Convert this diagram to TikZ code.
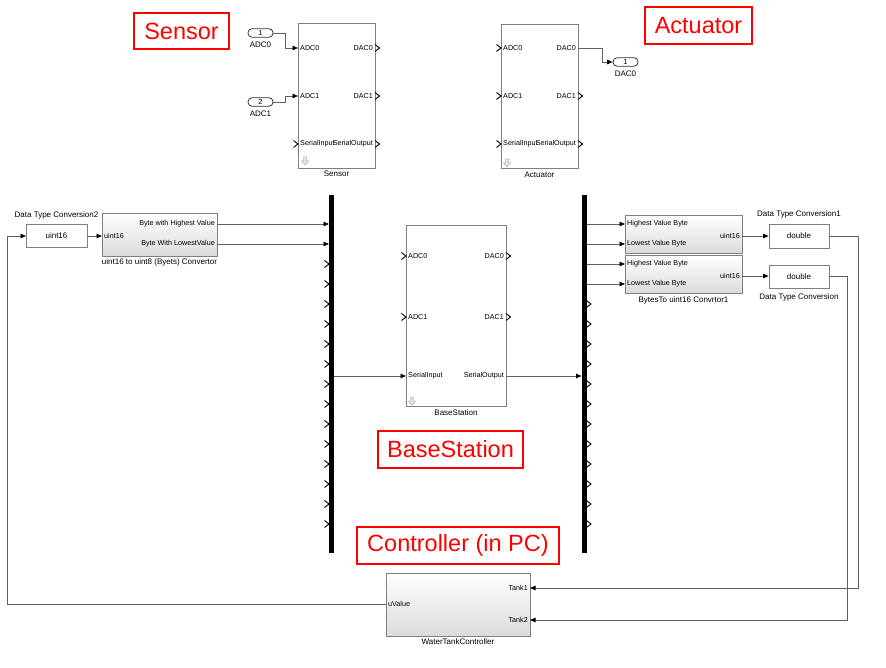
\documentclass[tikz,border=0pt]{standalone}
\usepackage{fontspec}
\setmainfont{Liberation Sans}
\usetikzlibrary{arrows.meta,positioning}

\begin{document}
\begin{tikzpicture}[
  x=1pt, y=-1pt,
  every node/.style={inner sep=0pt},
  blk/.style={draw=black!50, line width=0.8pt, fill=white},
  gblk/.style={draw=black!50, line width=0.8pt, top color=white, bottom color=black!14},
  iop/.style={draw=black!80, line width=0.8pt, rounded corners=4pt, fill=white,
              minimum width=25pt, minimum height=8.5pt, font=\fontsize{7.3}{8}\selectfont},
  port/.style={font=\fontsize{7.2}{8}\selectfont},
  bname/.style={font=\fontsize{8}{9}\selectfont},
  tag/.style={draw=red, line width=2.4pt, text=red, font=\fontsize{23.5}{26}\selectfont},
  bus/.style={fill=black, minimum width=5pt, minimum height=358pt},
  sig/.style={draw=black!62, line width=0.8pt,
              -{Triangle[length=5.5pt,width=4.5pt,color=black]}},
  chev/.style={draw=black, line width=0.9pt},
]
\useasboundingbox (0,0) rectangle (886,668);

% ---- Red tags ----
\node[tag, minimum width=95pt, minimum height=36pt] (tagsensor) at (181.5,31) {Sensor};
\node[tag, minimum width=107pt, minimum height=37pt] (tagact) at (698.5,25.5) {Actuator};
\node[tag, minimum width=145pt, minimum height=37pt] (tagbase) at (450.5,449.5) {BaseStation};
\node[tag, minimum width=202pt, minimum height=37pt] (tagctrl) at (458,545.5) {Controller (in PC)};

% ---- Sensor ----
\node[blk, minimum width=77pt, minimum height=145pt] (sensor) at (336.5,95.5) {};
\node[bname, below=2.5pt of sensor] (sensor-name) {Sensor};
\foreach \y/\t [count=\i] in {48/ADC0, 96/ADC1, 144/SerialInput} {
  \coordinate (sensor-i\i) at (298,\y);
  \node[port, anchor=west] (sensor-il\i) at (300,\y) {\t};
}
\foreach \y/\t [count=\i] in {48/DAC0, 96/DAC1, 144/SerialOutput} {
  \coordinate (sensor-o\i) at (375,\y);
  \node[port, anchor=east] (sensor-ol\i) at (373,\y) {\t};
}

\node[iop] (in1) at (260.5,33) {1};
\node[bname, below=4.5pt of in1] (in1-name) {ADC0};
\node[iop] (in2) at (260.5,102) {2};
\node[bname, below=4.5pt of in2] (in2-name) {ADC1};

% ---- Actuator ----
\node[blk, minimum width=77pt, minimum height=144pt] (act) at (539.5,96) {};
\node[bname, below=3pt of act] (act-name) {Actuator};
\foreach \y/\t [count=\i] in {48/ADC0, 96/ADC1, 144/SerialInput} {
  \coordinate (act-i\i) at (501,\y);
  \node[port, anchor=west] (act-il\i) at (503,\y) {\t};
}
\foreach \y/\t [count=\i] in {48/DAC0, 96/DAC1, 144/SerialOutput} {
  \coordinate (act-o\i) at (578,\y);
  \node[port, anchor=east] (act-ol\i) at (576,\y) {\t};
}

\node[iop] (out1) at (625.5,62) {1};
\node[bname, below=4.5pt of out1] (out1-name) {DAC0};

% ---- BaseStation ----
\node[blk, minimum width=100pt, minimum height=181pt] (base) at (456,315.5) {};
\node[bname, below=3pt of base] (base-name) {BaseStation};
\foreach \y/\t [count=\i] in {256/ADC0, 317/ADC1, 376/SerialInput} {
  \coordinate (base-i\i) at (406,\y);
  \node[port, anchor=west] (base-il\i) at (408,\y) {\t};
}
\foreach \y/\t [count=\i] in {256/DAC0, 317/DAC1, 376/SerialOutput} {
  \coordinate (base-o\i) at (506,\y);
  \node[port, anchor=east] (base-ol\i) at (504,\y) {\t};
}

% block icons
\foreach \x/\y in {305/157, 507/159, 412/397}
  \draw[black!30, fill=black!10, line width=0.5pt, shift={(\x,\y)}]
    (-1.5,0) -- (1.5,0) -- (1.5,4) -- (3.5,4) -- (0,8) -- (-3.5,4) -- (-1.5,4) -- cycle;

% ---- Left side conversion ----
\node[blk, minimum width=61pt, minimum height=23pt, font=\fontsize{8}{9}\selectfont]
  (dtc2) at (56.5,236) {uint16};
\node[bname, above=4.5pt of dtc2] (dtc2-name) {Data Type Conversion2};
\coordinate (dtc2-i) at (26,236);
\coordinate (dtc2-o) at (87,236);

\node[gblk, minimum width=115pt, minimum height=43pt] (conv) at (159.5,234.5) {};
\node[bname, below=2.5pt of conv] (conv-name) {uint16 to uint8 (Byets) Convertor};
\coordinate (conv-i) at (102,236);
\node[port, anchor=west] (conv-il) at (104,236) {uint16};
\coordinate (conv-o1) at (217,224);
\coordinate (conv-o2) at (217,244);
\node[port, anchor=east] (conv-ol1) at (215,224) {Byte with Highest Value};
\node[port, anchor=east] (conv-ol2) at (215,244) {Byte With LowestValue};

% ---- Buses ----
\node[bus] (lbus) at (331.5,374) {};
\node[bus] (rbus) at (584,374) {};
\foreach \k in {0,...,15} {
  \coordinate (lbus-i\k) at (329,224+20*\k);
  \coordinate (rbus-o\k) at (586.5,224+20*\k);
}
\coordinate (lbus-o) at (334,376);
\coordinate (rbus-i) at (581.5,376);

% ---- Right side conversion ----
\node[gblk, minimum width=117pt, minimum height=38pt] (b2u) at (683.5,234) {};
\node[gblk, minimum width=117pt, minimum height=38pt] (b2u1) at (683.5,274) {};
\node[bname, below=3pt of b2u1] (b2u1-name) {BytesTo uint16 Convrtor1};
\foreach \y/\t [count=\i] in {224/Highest Value Byte, 244/Lowest Value Byte,
                              264/Highest Value Byte, 284/Lowest Value Byte} {
  \coordinate (b2u-i\i) at (625,\y);
  \node[port, anchor=west] (b2u-il\i) at (627,\y) {\t};
}
\coordinate (b2u-o1) at (742,236);
\coordinate (b2u-o2) at (742,276);
\node[port, anchor=east] (b2u-ol1) at (740,236) {uint16};
\node[port, anchor=east] (b2u-ol2) at (740,276) {uint16};

\node[blk, minimum width=60pt, minimum height=24pt, font=\fontsize{8}{9}\selectfont]
  (dtc1) at (799,236) {double};
\node[bname, above=5pt of dtc1] (dtc1-name) {Data Type Conversion1};
\node[blk, minimum width=60pt, minimum height=23pt, font=\fontsize{8}{9}\selectfont]
  (dtc) at (799,276.5) {double};
\node[bname, below=5pt of dtc] (dtc-name) {Data Type Conversion};

% ---- Controller ----
\node[gblk, minimum width=144pt, minimum height=63pt] (ctrl) at (458,604.5) {};
\node[bname, below=2.5pt of ctrl] (ctrl-name) {WaterTankController};
\coordinate (ctrl-i) at (386,604);
\coordinate (ctrl-o1) at (530,588);
\coordinate (ctrl-o2) at (530,620);
\node[port, anchor=west] (ctrl-il) at (388,604) {uValue};
\node[port, anchor=east] (ctrl-ol1) at (528,588) {Tank1};
\node[port, anchor=east] (ctrl-ol2) at (528,620) {Tank2};
\coordinate (fb) at (7,604);

% ---- Open ports ----
\foreach \p in {sensor-i3, act-i1, act-i2, act-i3, base-i1, base-i2,
                lbus-i2, lbus-i3, lbus-i4, lbus-i5, lbus-i6, lbus-i7, lbus-i8,
                lbus-i9, lbus-i10, lbus-i11, lbus-i12, lbus-i13, lbus-i14, lbus-i15}
  \draw[chev] ([shift={(-4.5,-3.5)}]\p) -- (\p) -- ([shift={(-4.5,3.5)}]\p);
\foreach \p in {sensor-o1, sensor-o2, sensor-o3, act-o2, act-o3, base-o1, base-o2,
                rbus-o4, rbus-o5, rbus-o6, rbus-o7, rbus-o8, rbus-o9, rbus-o10,
                rbus-o11, rbus-o12, rbus-o13, rbus-o14, rbus-o15}
  \draw[chev] ([shift={(0,-3.5)}]\p) -- ([shift={(4.5,0)}]\p) -- ([shift={(0,3.5)}]\p);

% ---- Signals ----
\draw[sig] (in1.east) -- ++(12,0) |- (sensor-i1);
\draw[sig] (in2.east) -- ++(12,0) |- (sensor-i2);
\draw[sig] (act-o1) -- ++(24,0) |- (out1.west);

\draw[sig] (dtc2-o) -- (conv-i);
\draw[sig] (conv-o1) -- (lbus-i0);
\draw[sig] (conv-o2) -- (lbus-i1);
\draw[sig] (lbus-o) -- (base-i3);
\draw[sig] (base-o3) -- (rbus-i);

\foreach \k [count=\i] in {0,1,2,3}
  \draw[sig] (rbus-o\k) -- (b2u-i\i);
\draw[sig] (b2u-o1) -- (dtc1.west);
\draw[sig] (b2u-o2) -- (dtc.west |- b2u-o2);

\draw[sig] (dtc1.east) -- ++(29,0) |- (ctrl-o1);
\draw[sig] (dtc.east |- b2u-o2) -- ++(18,0) |- (ctrl-o2);
\draw[sig] (ctrl-i) -- (fb) |- (dtc2-i);

\end{tikzpicture}
\end{document}
